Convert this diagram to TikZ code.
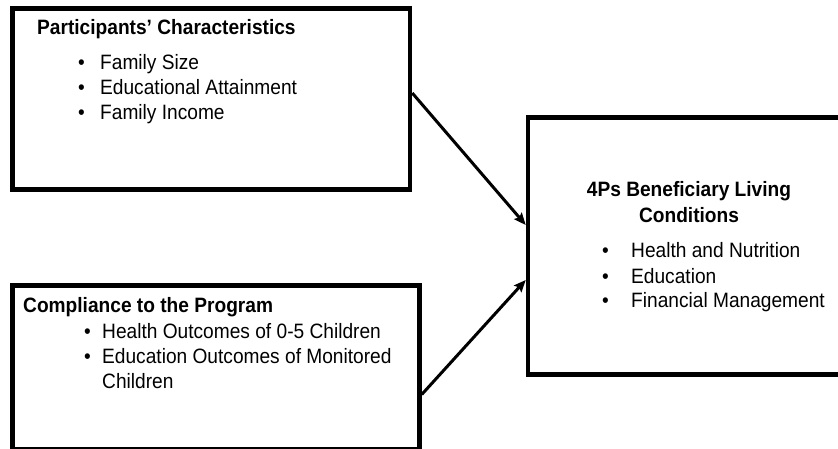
\documentclass[tikz,border=0pt]{standalone}
\usepackage{fontspec}
\setmainfont{Liberation Sans}[FakeStretch=0.92]
\usepackage{tikz}
\usetikzlibrary{arrows.meta}
\newcommand{\listItem}[2]{\makebox[#1][l]{\textbullet}#2}
\newcommand{\boxList}[1]{\begin{tabular}[t]{@{}l@{}}#1\end{tabular}}
\tikzset{
	frame/.style={draw, line width=4.5pt, inner sep=0pt},
	boxtext/.style={inner sep=0pt, anchor=base west, font=\fontsize{20.8}{25}\selectfont},
	link/.style={line width=3pt, -{Stealth[length=12pt, width=10pt, inset=2pt]}}
}

\begin{document}
\begin{tikzpicture}[x=1pt, y=-1pt]
		\useasboundingbox (0,0) rectangle (838,449);
	
		\node [frame, minimum width=397.5pt, minimum height=181pt] (pc) at (211.25,99) {}; %characteristics
		\node [frame, minimum width=407pt, minimum height=164pt] (cp) at (216,367.5) {}; %compliance
		\node [frame, minimum width=314pt, minimum height=257pt] (lc) at (685,246) {}; %living conditions
		
		\node [boxtext, font=\fontsize{20.8}{25}\selectfont\bfseries] (pcTitle) at (37,35) {Participants' Characteristics};
		\node [boxtext] (pcList) at (78,70) {\boxList{\listItem{22pt}{Family Size}\\
			\listItem{22pt}{Educational Attainment}\\
			\listItem{22pt}{Family Income}}};
		
		\node [boxtext, font=\fontsize{20.8}{25}\selectfont\bfseries] (cpTitle) at (23,312) {Compliance to the Program};
		\node [boxtext] (cpList) at (84,338) {\boxList{\listItem{18pt}{Health Outcomes of 0-5 Children}\\
			\listItem{18pt}{Education Outcomes of Monitored}\\
			\hspace*{18pt}Children}};
		
		\node [boxtext, anchor=base, font=\fontsize{20.8}{25}\selectfont\bfseries] (lcTitle) at (689,197) {\begin{tabular}[t]{@{}c@{}}4Ps Beneficiary Living\\Conditions\end{tabular}};
		\node [boxtext] (lcList) at (602,258) {\boxList{\listItem{29pt}{Health and Nutrition}\\
			\listItem{29pt}{Education}\\
			\listItem{29pt}{Financial Management}}};
		
		\draw [link] ([yshift=6pt]pc.east) -- ([yshift=21pt]lc.west);
		\draw [link] ([yshift=-27pt]cp.east) -- ([yshift=-34pt]lc.west);
	\end{tikzpicture}
\end{document}
